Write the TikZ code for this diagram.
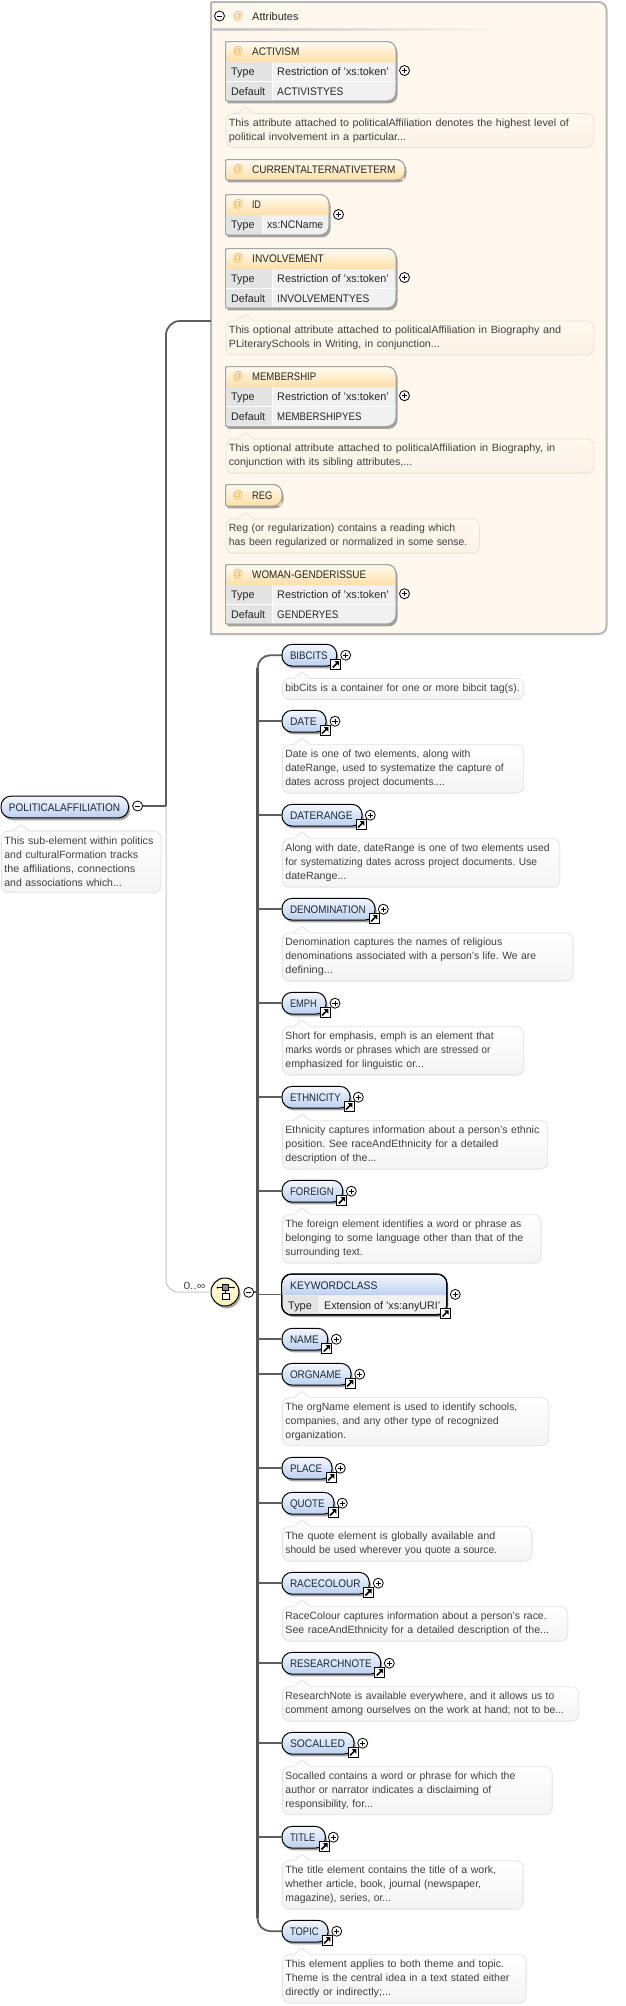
\documentclass[tikz,border=0pt]{standalone}
\usepackage{fontspec}
\setmainfont{Liberation Sans}
\usetikzlibrary{shadows,calc}
\frenchspacing
\definecolor{panelbg}{HTML}{FEF8EE}
\definecolor{panelln}{HTML}{B8B8B8}
\definecolor{attrln}{HTML}{A4A4A4}
\definecolor{attrtop}{HTML}{FFFBF2}
\definecolor{attrbot}{HTML}{FFDFA6}
\definecolor{attrat}{HTML}{F4AC48}
\definecolor{cellbg}{HTML}{F1F1F1}
\definecolor{labbg}{HTML}{E4E4E4}
\definecolor{elemtop}{HTML}{F4F7FD}
\definecolor{elembot}{HTML}{BCD0F0}
\definecolor{elemtx}{HTML}{1C2A3A}
\definecolor{notetx}{HTML}{404040}
\definecolor{noteln}{HTML}{E2E2E2}
\definecolor{notebot}{HTML}{F4F4F4}
\definecolor{anoteln}{HTML}{E8E2D4}
\definecolor{anotebot}{HTML}{F9F3E8}
\definecolor{linkc}{HTML}{5E5E5E}
\definecolor{busc}{HTML}{555555}
\definecolor{thinc}{HTML}{C8C8C8}
\definecolor{seqtop}{HTML}{FFFDE2}
\definecolor{seqbot}{HTML}{F6EFB8}
\newcommand\elemfont{\fontsize{11}{14}\selectfont}
\newcommand\notefont{\fontsize{10.5}{14}\selectfont}
\def\anotename{anote}
\newif\ifstraightbranch \straightbranchtrue
\newsavebox\fitbox
% set text squeezed to a given width
\newcommand\fw[2]{\sbox\fitbox{#2}\pgfmathsetmacro\fitr{#1/\the\wd\fitbox}\scalebox{\fitr}[1]{\usebox\fitbox}}
\tikzset{
  softshadow/.style={drop shadow={shadow xshift=1.6pt,shadow yshift=-2.4pt,fill=black,opacity=.35}},
  elembox/.style={draw=black,line width=1pt,rounded corners=10pt,top color=elemtop,bottom color=elembot,
    minimum height=21.7pt,inner xsep=8pt,inner ysep=0pt,text height=8pt,text depth=0pt,
    font=\elemfont,text=elemtx,align=left,softshadow},
  plusnode/.style={circle,draw=black,line width=.8pt,fill=white,minimum size=10pt,inner sep=0pt,
    path picture={\draw[line width=.7pt] ($(path picture bounding box.center)+(-2.6,0)$) -- ++(5.2,0)
       ($(path picture bounding box.center)+(0,-2.6)$) -- ++(0,5.2);}},
  minusnode/.style={circle,draw=black,line width=.8pt,fill=white,minimum size=10pt,inner sep=0pt,
    path picture={\draw[line width=.7pt] ($(path picture bounding box.center)+(-2.6,0)$) -- ++(5.2,0);}},
  arrowbox/.style={draw=black,line width=1pt,fill=white,minimum size=10pt,inner sep=0pt},
  enote/.style={draw=noteln,line width=.8pt,rounded corners=7pt,top color=white,bottom color=notebot,
    anchor=north west,inner xsep=3pt,inner ysep=0pt,font=\notefont,text=notetx,align=left},
  anote/.style={enote,draw=anoteln,top color=panelbg,bottom color=anotebot},
  attrtext/.style={anchor=west,inner sep=0pt,text height=8pt,text depth=0pt,font=\elemfont,text=black!85},
  attrsign/.style={anchor=center,inner sep=0pt,font=\elemfont,text=attrat},
  attrframe/.style={draw=attrln,line width=1pt},
  labcell/.style={fill=labbg,anchor=north west,inner sep=0pt,font=\elemfont,text=black!85},
  branch/.style={draw=linkc,line width=1.8pt},
  busline/.style={draw=busc,line width=2.8pt},
  thinline/.style={draw=thinc,line width=1pt},
}
% element without type row: name, text, text width, right x, centre y, plus-x
\newcommand\elemnode[6]{%
  \pgfmathsetmacro\ew{#4-282}\pgfmathsetmacro\ecx{(#4+282)/2}%
  \node[elembox,minimum width=\ew pt,text width={(\ew-16)*1pt}] (#1) at (\ecx,#5) {\mbox{\fw{#3}{#2}}};
  \ifstraightbranch\draw[branch] (busx |- #1.west) -- (#1.west);\fi
  \node[plusnode] (#1plus) at (#6,#5) {};
  \arrowsq{#1go}{#4-1}{#5+9.3}
}
\newcommand\arrowsq[3]{%
  \pgfmathsetmacro\ax{#2}\pgfmathsetmacro\ay{#3}%
  \node[arrowbox] (#1) at (\ax,\ay) {};
  \draw[line width=1.7pt] ($(#1.center)+(-2.9,2.9)$) -- ($(#1.center)+(1.2,-1.2)$);
  \fill ($(#1.center)+(-1.1,-3.3)$) -- ($(#1.center)+(3.3,-3.3)$) -- ($(#1.center)+(3.3,1.1)$) -- cycle;
}
% note: style, name, x1, x2, y1, y2, text
\newcommand\notebox[7]{%
  \pgfmathsetmacro\nw{#4-#3}\pgfmathsetmacro\nh{#6-#5}%
  \node[#1,minimum width=\nw pt,minimum height=\nh pt,text width={(\nw-6)*1pt}] (#2) at (#3,#5) {#7};
  \def\tmpstyle{#1}%
  \ifx\tmpstyle\anotename\def\tipc{panelbg}\def\tipl{anoteln}\else\def\tipc{white}\def\tipl{noteln}\fi
  \fill[\tipc] ($(#2.north west)+(12,.7)$) -- ++(8,-6.7) -- ++(8,6.7) -- cycle;
  \draw[\tipl,line width=.8pt] ($(#2.north west)+(12,0)$) -- ++(8,-6) -- ++(8,6);
}
% attribute box with rows: name, text, x2, y1, y2, header bottom
\newcommand\attrshell[6]{%
  \pgfmathsetmacro\ym{(#4+#5)/2}%
  \path[attrframe,fill=cellbg,softshadow] (225.5,\ym) [rounded corners=2pt] -- (225.5,#4) [rounded corners=9pt] -- (#3,#4) -- (#3,#5) [rounded corners=2pt] -- (225.5,#5) -- cycle;
  \shade[top color=attrtop,bottom color=attrbot] (226,#6) [rounded corners=2pt] -- (226,#4+.5) [rounded corners=8.5pt] -- (#3-.5,#4+.5) [sharp corners] -- (#3-.5,#6) -- cycle;
  \path[draw=attrln,line width=1pt] (225.5,\ym) [rounded corners=2pt] -- (225.5,#4) [rounded corners=9pt] -- (#3,#4) -- (#3,#5) [rounded corners=2pt] -- (225.5,#5) -- cycle;
  \pgfmathsetmacro\yc{(#4+#6)/2}%
  \node[attrsign] (#1at) at (238,\yc) {\fw{10.3}{@}};
  \node[attrtext] (#1) at (252,\yc) {#2};
}
% row: name, label, value, x split, y1, y2, x2
\newcommand\attrrow[7]{%
  \pgfmathsetmacro\rw{#4-226.2}\pgfmathsetmacro\rh{#6-#5-1}\pgfmathsetmacro\yc{(#5+#6)/2}%
  \node[labcell,minimum width=\rw pt,minimum height=\rh pt] (#1l) at (226.2,#5) {};
  \node[attrtext] (#1k) at (231,\yc) {#2};
  \node[attrtext] (#1v) at (#4+5.5,\yc) {#3};
  \draw[white,line width=1pt] (#4+.5,#5) -- (#4+.5,#6-.8);
}
\begin{document}
\begin{tikzpicture}[x=1pt,y=-1pt]
\useasboundingbox[fill=white] (0,0) rectangle (625,2006);
% attribute panel
\path[draw=panelln,fill=panelbg,line width=2pt] (211,300) [rounded corners=1pt] -- (211,2) [rounded corners=8pt] -- (606.5,2) -- (606.5,634) [sharp corners] -- (211,634) -- cycle;
\node[minusnode] (attminus) at (219.5,16) {};
\node[attrsign] (attsign) at (238,16) {\fw{10.3}{@}};
\node[attrtext] (atthead) at (252,16) {\fw{46.3}{Attributes}};
\shade[left color=panelln!80,right color=panelbg] (213,28.5) rectangle (510,30.5);
\coordinate (attin) at (211,321);
% ACTIVISM
\attrshell{activism}{\fw{47.3}{ACTIVISM}}{396}{41.5}{101}{62}
\attrrow{activa}{\fw{23.3}{Type}}{\fw{111.7}{Restriction of 'xs:token'}}{271.5}{62}{81.5}{396}
\attrrow{activb}{\fw{34}{Default}}{\fw{66.3}{ACTIVISTYES}}{271.5}{81.5}{100.5}{396}
\draw[white,line width=1pt] (226,81.5) -- (395.5,81.5);
\node[plusnode] (activismplus) at (404.5,70.5) {};
\notebox{anote}{activismn}{225.5}{593.5}{113}{147}{\fw{340}{This attribute attached to politicalAffiliation denotes the highest level of}\\\fw{177.4}{political involvement in a particular...}}
% CURRENTALTERNATIVETERM
\attrshell{curralt}{\fw{143.3}{CURRENTALTERNATIVETERM}}{405}{159.5}{180}{179.5}
% ID
\attrshell{idattr}{\fw{8.7}{ID}}{329}{194.5}{235}{215}
\attrrow{idra}{\fw{23.3}{Type}}{\fw{56}{xs:NCName}}{261.5}{215}{234.5}{329}
\node[plusnode] (idplus) at (338.5,214.5) {};
% INVOLVEMENT
\attrshell{involve}{\fw{71.7}{INVOLVEMENT}}{396}{248.5}{308}{269}
\attrrow{inva}{\fw{23.3}{Type}}{\fw{111.7}{Restriction of 'xs:token'}}{271.5}{269}{288.5}{396}
\attrrow{invb}{\fw{34}{Default}}{\fw{92.3}{INVOLVEMENTYES}}{271.5}{288.5}{307.5}{396}
\draw[white,line width=1pt] (226,288.5) -- (395.5,288.5);
\node[plusnode] (involveplus) at (404.5,277.5) {};
\notebox{anote}{involven}{225.5}{593.5}{320.5}{354.5}{\fw{332.4}{This optional attribute attached to politicalAffiliation in Biography and}\\\fw{211}{PLiterarySchools in Writing, in conjunction...}}
% MEMBERSHIP
\attrshell{member}{\fw{64}{MEMBERSHIP}}{396}{366.5}{426.5}{387}
\attrrow{mema}{\fw{23.3}{Type}}{\fw{111.7}{Restriction of 'xs:token'}}{271.5}{387}{406.5}{396}
\attrrow{memb}{\fw{34}{Default}}{\fw{84.3}{MEMBERSHIPYES}}{271.5}{406.5}{426}{396}
\draw[white,line width=1pt] (226,406.5) -- (395.5,406.5);
\node[plusnode] (memberplus) at (404.5,395.7) {};
\notebox{anote}{membern}{225.5}{593.5}{438.5}{472.7}{\fw{326.4}{This optional attribute attached to politicalAffiliation in Biography, in}\\\fw{183.4}{conjunction with its sibling attributes,...}}
% REG
\attrshell{regattr}{\fw{20.3}{REG}}{282}{484.5}{506}{505.5}
\notebox{anote}{regn}{225.5}{479}{518.5}{552.7}{\fw{226.4}{Reg (or regularization) contains a reading which}\\\fw{238.4}{has been regularized or normalized in some sense.}}
% WOMAN
\attrshell{woman}{\fw{114}{WOMAN-GENDERISSUE}}{396}{564.5}{624}{585}
\attrrow{woma}{\fw{23.3}{Type}}{\fw{111.7}{Restriction of 'xs:token'}}{271.5}{585}{604.5}{396}
\attrrow{womb}{\fw{34}{Default}}{\fw{61.3}{GENDERYES}}{271.5}{604.5}{623.5}{396}
\draw[white,line width=1pt] (226,604.5) -- (395.5,604.5);
\node[plusnode] (womanplus) at (404.5,593.7) {};
% root
\coordinate (fork) at (166,806);
\node[elembox,minimum width=127.5pt,text width=111.5pt] (root) at (64.75,807) {\mbox{\fw{111}{POLITICALAFFILIATION}}};
\node[minusnode] (rootminus) at (137.6,806) {};
\notebox{enote}{rootn}{1}{160.5}{830.7}{892.3}{\fw{149}{This sub-element within politics}\\\fw{133.7}{and culturalFormation tracks}\\\fw{131}{the affiliations, connections}\\\fw{117.4}{and associations which...}}
% sequence
\node[circle,draw=black,line width=1pt,top color=seqtop,bottom color=seqbot,minimum size=28pt,inner sep=0pt,softshadow] (seq) at (225,1292) {};
\node[draw=black,fill=black!45,line width=.6pt,minimum width=6pt,minimum height=5.5pt,inner sep=0pt] (seqa) at (225.7,1287.5) {};
\node[draw=black,fill=white,line width=.8pt,minimum width=6.5pt,minimum height=6pt,inner sep=0pt] (seqb) at (225.7,1296.4) {};
\coordinate (seql) at (217.5,1287.5);
\coordinate (seqr) at (233.9,1287.5);
\draw[line width=.8pt] (seql) -- (seqa.west) (seqa.east) -- (seqr) (seqa.south) -- (seqb.north);
\fill (seql) circle (1pt) (seqr) circle (1pt);
\node[minusnode] (seqminus) at (248.7,1292.3) {};
\coordinate (busx) at (257.5,1292);
\draw[thinline,rounded corners=12pt] (fork) -- (fork |- seq) -- (seq.west);
\node[inner sep=0pt,font=\notefont,text=notetx] (occ) at (194.5,1285.5) {\fw{22}{0..∞}};
\draw[draw=linkc,line width=1.8pt] (rootminus.east) -- (fork);
\draw[draw=linkc,line width=1.8pt,rounded corners=14pt] (fork) -- (fork |- attin) -- (attin);
\draw[branch] (seqminus.east) -- (busx |- seqminus.east);
% elements
\coordinate (busa) at (257.5,668);
\coordinate (busb) at (257.5,1918);
\coordinate (busc1) at (257.5,675);
\coordinate (busc2) at (257.5,1911);
\coordinate (topin) at (282,655.2);
\coordinate (botin) at (282,1931.2);
\draw[busline] (busa) -- (busb);
\draw[draw=linkc,line width=1.8pt,rounded corners=13pt] (topin) -- (busx |- topin) -- (busc1);
\draw[draw=linkc,line width=1.8pt,rounded corners=13pt] (botin) -- (busx |- botin) -- (busc2);
\straightbranchfalse
\elemnode{bibcits}{BIBCITS}{37.7}{336.7}{655.2}{345.7}
\straightbranchtrue
\notebox{enote}{bibcitsn}{282}{523.3}{678}{699}{\fw{234.3}{bibCits is a container for one or more bibcit tag(s).}}
\elemnode{date}{DATE}{26.7}{326}{721.2}{335}
\notebox{enote}{daten}{282}{523.3}{744.3}{792.7}{\fw{185}{Date is one of two elements, along with}\\\fw{218.3}{dateRange, used to systematize the capture of}\\\fw{159.7}{dates across project documents....}}
\elemnode{daterange}{DATERANGE}{62.7}{362}{815.2}{370.3}
\notebox{enote}{daterangen}{282}{559.3}{838.3}{886.7}{\fw{264.3}{Along with date, dateRange is one of two elements used}\\\fw{251.7}{for systematizing dates across project documents. Use}\\\fw{61}{dateRange...}}
\elemnode{denom}{DENOMINATION}{75.7}{375}{909.2}{383.3}
\notebox{enote}{denomn}{282}{572.7}{932.5}{980.7}{\fw{217}{Denomination captures the names of religious}\\\fw{250.7}{denominations associated with a person's life. We are}\\\fw{47.7}{defining...}}
\elemnode{emph}{EMPH}{26.7}{326}{1003.2}{335}
\notebox{enote}{emphn}{282}{523.3}{1026.3}{1074.7}{\fw{208.3}{Short for emphasis, emph is an element that}\\\fw{205}{marks words or phrases which are stressed or}\\\fw{138.7}{emphasized for linguistic or...}}
\elemnode{ethnicity}{ETHNICITY}{50.7}{350}{1097.2}{358.3}
\notebox{enote}{ethnicityn}{282}{547.3}{1120.3}{1168.7}{\fw{254}{Ethnicity captures information about a person's ethnic}\\\fw{213}{position. See raceAndEthnicity for a detailed}\\\fw{91}{description of the...}}
\elemnode{foreign}{FOREIGN}{43.7}{342.7}{1191.2}{351.3}
\notebox{enote}{foreignn}{282}{540.7}{1214.3}{1262.7}{\fw{236}{The foreign element identifies a word or phrase as}\\\fw{238}{belonging to some language other than that of the}\\\fw{77.3}{surrounding text.}}
% KEYWORDCLASS
\node[draw=black,line width=1pt,rounded corners=10pt,fill=cellbg,minimum width=164.7pt,minimum height=40.4pt,inner sep=0pt,softshadow] (keyword) at (364.35,1294.5) {};
\shade[top color=elemtop,bottom color=elembot] (282.5,1295) [rounded corners=9.5pt] -- (282.5,1274.8) -- (446.2,1274.8) [sharp corners] -- (446.2,1295) -- cycle;
\fill[labbg] (318,1295.8) -- (318,1314.2) [rounded corners=9.5pt] -- (282.5,1314.2) [sharp corners] -- (282.5,1295.8) -- cycle;
\draw[draw=black,line width=1pt,rounded corners=10pt] (keyword.north west) rectangle (keyword.south east);
\node[attrtext,text=elemtx] (keywordt) at (290,1285) {\fw{87.3}{KEYWORDCLASS}};
\node[attrtext] (keywordk) at (288,1305) {\fw{23.7}{Type}};
\node[attrtext] (keywordv) at (324,1305) {\fw{116}{Extension of 'xs:anyURI'}};
\node[plusnode] (keywordplus) at (455.3,1294.4) {};
\arrowsq{keywordgo}{445.3}{1313.7}
\draw[branch] (busx |- keyword.west) -- (keyword.west);
%
\elemnode{name}{NAME}{28.7}{327.7}{1339.2}{336.3}
\elemnode{orgname}{ORGNAME}{51.3}{351}{1374.2}{359.7}
\notebox{enote}{orgnamen}{282}{548.3}{1397.3}{1445.3}{\fw{232}{The orgName element is used to identify schools,}\\\fw{213.4}{companies, and any other type of recognized}\\\fw{60.7}{organization.}}
\elemnode{place}{PLACE}{32.3}{332}{1468.2}{340.3}
\elemnode{quote}{QUOTE}{34.7}{334}{1503.2}{342.3}
\notebox{enote}{quoten}{282}{531.7}{1526.3}{1560.7}{\fw{210}{The quote element is globally available and}\\\fw{211.7}{should be used wherever you quote a source.}}
\elemnode{racecolour}{RACECOLOUR}{70.7}{369.3}{1583.2}{378.3}
\notebox{enote}{racecolourn}{282}{567.3}{1606.3}{1640.7}{\fw{261.3}{RaceColour captures information about a person's race.}\\\fw{263.7}{See raceAndEthnicity for a detailed description of the...}}
\elemnode{research}{RESEARCHNOTE}{81.7}{380.7}{1663.2}{389.3}
\notebox{enote}{researchn}{282}{578.3}{1686.3}{1720.7}{\fw{269}{ResearchNote is available everywhere, and it allows us to}\\\fw{278.7}{comment among ourselves on the work at hand; not to be...}}
\elemnode{socalled}{SOCALLED}{55}{354}{1743.2}{362.7}
\notebox{enote}{socalledn}{282}{551.7}{1766.3}{1814.3}{\fw{230}{Socalled contains a word or phrase for which the}\\\fw{206}{author or narrator indicates a disclaiming of}\\\fw{87.7}{responsibility, for...}}
\elemnode{titleel}{TITLE}{25.3}{325.3}{1837.2}{333.3}
\notebox{enote}{titleeln}{282}{522.7}{1860.3}{1908.7}{\fw{210.7}{The title element contains the title of a work,}\\\fw{195.7}{whether article, book, journal (newspaper,}\\\fw{105.7}{magazine), series, or...}}
\straightbranchfalse
\elemnode{topic}{TOPIC}{28.7}{328}{1931.2}{336.7}
\notebox{enote}{topicn}{282}{525.7}{1954.3}{2002.7}{\fw{218.7}{This element applies to both theme and topic.}\\\fw{224}{Theme is the central idea in a text stated either}\\\fw{105.7}{directly or indirectly;...}}
\end{tikzpicture}
\end{document}
